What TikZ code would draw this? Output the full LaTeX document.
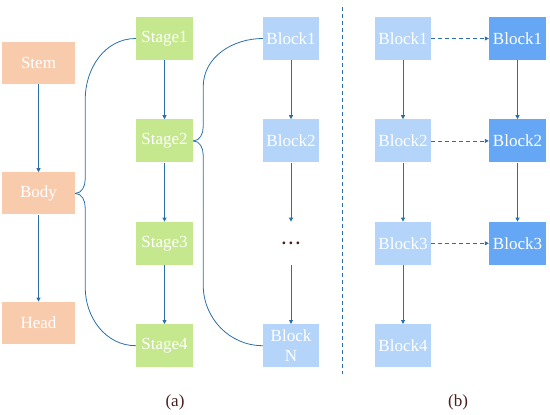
\documentclass[tikz,border=0pt]{standalone}
\usepackage{fontspec}
\setmainfont{Liberation Serif}
\usetikzlibrary{arrows.meta,positioning}
\definecolor{nwpeach}{HTML}{F8CBAD}
\definecolor{nwgreen}{HTML}{C5E88E}
\definecolor{nwlight}{HTML}{B4D5F9}
\definecolor{nwdeep}{HTML}{65A7F4}
\definecolor{nwline}{HTML}{2A6FA8}
\definecolor{nwcap}{HTML}{4A1E1E}
\tikzset{
  base/.style={text=white,inner sep=0pt,align=center,minimum height=43pt,
               font=\fontsize{17}{20}\selectfont},
  part/.style={base,fill=nwpeach,minimum width=73pt,minimum height=42pt},
  stg/.style={base,fill=nwgreen,minimum width=57pt},
  blk/.style={base,fill=nwlight,minimum width=56pt},
  blkd/.style={base,fill=nwdeep,minimum width=57pt},
  ar/.style={-{Triangle[length=4pt,width=4pt]},line width=0.8pt,nwline},
  arr/.style={ar,dash pattern=on 4pt off 3pt},
  brace/.style={line width=0.8pt,nwline},
  capt/.style={text=nwcap,font=\fontsize{17}{20}\selectfont},
}
\begin{document}
\begin{tikzpicture}[x=1pt,y=1pt,node distance=59pt]
    \useasboundingbox (0,0) rectangle (550,-415);
    % (a) stem / body / head
    \node[part] (stem) at (38.5,-63) {Stem};
    \node[part,below=88pt of stem] (body) {Body};
    \node[part,below=87pt of body] (head) {Head};
    \draw[ar] (stem) -- (body);
    \draw[ar] (body) -- (head);
    % stages
    \node[stg] (stage1) at (164.5,-38.5) {Stage1};
    \node[stg,below=of stage1] (stage2) {Stage2};
    \node[stg,below=of stage2] (stage3) {Stage3};
    \node[stg,below=of stage3] (stage4) {Stage4};
    \draw[ar] (stage1) -- (stage2);
    \draw[ar] (stage2) -- (stage3);
    \draw[ar] (stage3) -- (stage4);
    \draw[brace] (body.east) to[out=0,in=-90] ++(10,14) -- ++(0,80)
        to[out=90,in=180] (stage1.west);
    \draw[brace] (body.east) to[out=0,in=90] ++(10,-14) -- ++(0,-80)
        to[out=-90,in=180] (stage4.west);
    % blocks of one stage
    \node[blk] (blka1) at (291,-38.5) {Block1};
    \node[blk,below=of blka1] (blka2) {Block2};
    \node[below=of blka2,minimum height=43pt,inner sep=0pt,text=nwcap,
          font=\fontsize{17}{20}\selectfont\bfseries] (dots) {.\,.\,.};
    \node[blk,below=of dots] (blkan) {Block\\N};
    \draw[ar] (blka1) -- (blka2);
    \draw[ar] (blka2) -- (dots);
    \draw[ar] (dots) -- (blkan);
    \draw[brace] (stage2.east) to[out=0,in=-90] ++(10,14) -- ++(0,40)
        to[out=90,in=180] (blka1.west);
    \draw[brace] (stage2.east) to[out=0,in=90] ++(10,-14) -- ++(0,-130)
        to[out=-90,in=180] (blkan.west);
    % divider
    \coordinate (divtop) at (342,-7);
    \coordinate (divbot) at (342,-374);
    \draw[brace,dash pattern=on 4pt off 3pt] (divtop) -- (divbot);
    % (b)
    \node[blk] (blkb1) at (403,-38.5) {Block1};
    \node[blk,below=of blkb1] (blkb2) {Block2};
    \node[blk,below=of blkb2] (blkb3) {Block3};
    \node[blk,below=of blkb3] (blkb4) {Block4};
    \node[blkd] (blkc1) at (517.5,-38.5) {Block1};
    \node[blkd,below=of blkc1] (blkc2) {Block2};
    \node[blkd,below=of blkc2] (blkc3) {Block3};
    \draw[ar] (blkb1) -- (blkb2);
    \draw[ar] (blkb2) -- (blkb3);
    \draw[ar] (blkb3) -- (blkb4);
    \draw[ar] (blkc1) -- (blkc2);
    \draw[ar] (blkc2) -- (blkc3);
    \draw[arr] (blkb1) -- (blkc1);
    \draw[arr] (blkb2) -- (blkc2);
    \draw[arr] (blkb3) -- (blkc3);
    % captions
    \node[capt] (capa) at (175,-402) {(a)};
    \node[capt] (capb) at (458,-402) {(b)};
\end{tikzpicture}
\end{document}
